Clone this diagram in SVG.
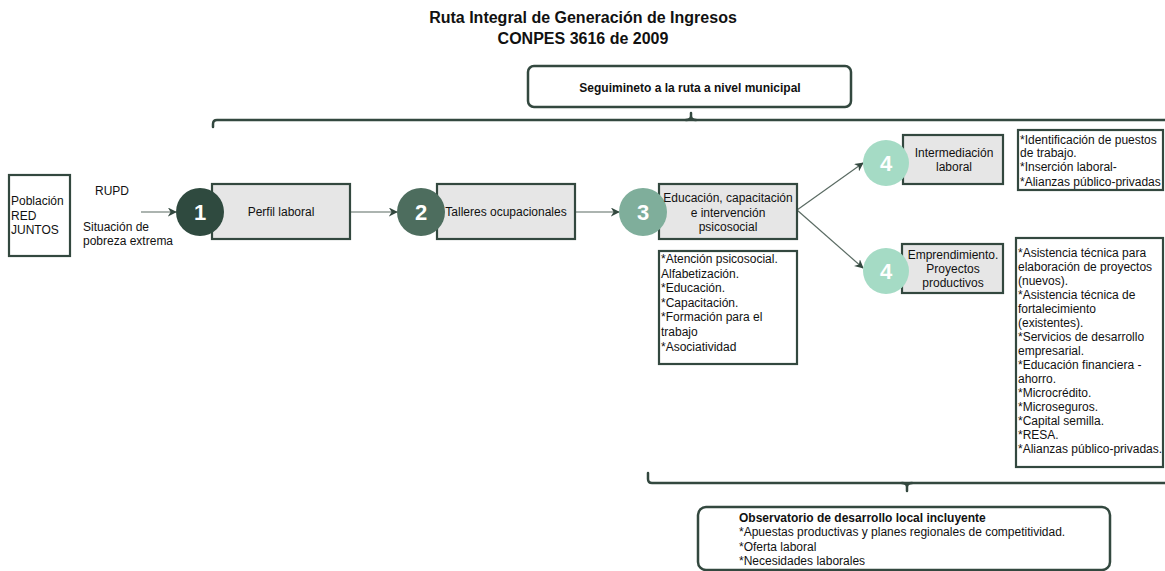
<svg xmlns="http://www.w3.org/2000/svg" width="1165" height="571" viewBox="0 0 1165 571">
<defs>
<style>
text{font-family:"Liberation Sans",Arial,sans-serif;font-size:12px;fill:#111}
.title{font-size:16px;font-weight:bold;text-anchor:middle}
.b{font-weight:bold}
.c{text-anchor:middle}
.num{font-size:22px;font-weight:bold;fill:#fff;text-anchor:middle}
.step{fill:#e6e6e6;stroke:#33483f;stroke-width:2.2}
.info{fill:#fff;stroke:#33483f;stroke-width:2.2}
.round{fill:#fff;stroke:#33483f;stroke-width:2.5}
.brace{fill:none;stroke:#33483f;stroke-width:2.5;stroke-linecap:round}
.conn{fill:none;stroke:#5a6b63;stroke-width:1.2}
</style>
<marker id="ah" viewBox="0 0 10 10" refX="9" refY="5" markerWidth="9" markerHeight="9" orient="auto" markerUnits="userSpaceOnUse">
<path d="M0,0 L10,5 L0,10 L3,5 z" fill="#33483f"/>
</marker>
</defs>
<rect width="1165" height="571" fill="#fff"/>

<g id="title">
<text class="title" x="583" y="23">Ruta Integral de Generación de Ingresos</text>
<text class="title" x="583" y="44">CONPES 3616 de 2009</text>
</g>

<g id="seguimiento">
<rect class="round" x="528" y="66" width="323" height="41" rx="6"/>
<text class="b c" x="690" y="92">Seguimineto a la ruta a nivel municipal</text>
</g>

<g id="braces">
<path class="brace" d="M213,127 L213,124 Q213,120 217,120 L1170,120"/>
<path class="brace" d="M686,120 Q691,120 691,116 L691,113 M696,120 Q691,120 691,116"/>
<path class="brace" d="M648,473 L648,479 Q648,483 652,483 L1170,483"/>
<path class="brace" d="M902,483 Q907,483 907,487 L907,491 M912,483 Q907,483 907,487"/>
</g>

<g id="poblacion">
<rect class="info" x="9" y="175" width="61" height="81"/>
<text x="11" y="205">Población</text>
<text x="11" y="220">RED</text>
<text x="11" y="234">JUNTOS</text>
</g>

<g id="labels-entrada">
<text x="95" y="195">RUPD</text>
<text x="83" y="231">Situación de</text>
<text x="83" y="245">pobreza extrema</text>
</g>

<g id="connectors">
<line class="conn" x1="141" y1="212" x2="176" y2="212" marker-end="url(#ah)"/>
<line class="conn" x1="351" y1="212" x2="397" y2="212" marker-end="url(#ah)"/>
<line class="conn" x1="575" y1="212" x2="619" y2="212" marker-end="url(#ah)"/>
<line class="conn" x1="797" y1="210" x2="863" y2="163" marker-end="url(#ah)"/>
<line class="conn" x1="797" y1="210" x2="863" y2="268" marker-end="url(#ah)"/>
</g>

<g id="paso1">
<rect class="step" x="212" y="184" width="138" height="55"/>
<circle cx="200" cy="212" r="24" fill="#2f4a3f"/>
<text class="num" x="200" y="220">1</text>
<text class="c" x="281" y="216">Perfil laboral</text>
</g>

<g id="paso2">
<rect class="step" x="437" y="184" width="138" height="55"/>
<circle cx="421" cy="212" r="24" fill="#4d6d5e"/>
<text class="num" x="421" y="220">2</text>
<text class="c" x="506" y="216">Talleres ocupacionales</text>
</g>

<g id="paso3">
<rect class="step" x="659" y="184" width="138" height="55"/>
<circle cx="643" cy="212" r="24" fill="#7fae9b"/>
<text class="num" x="643" y="220">3</text>
<text class="c" x="728" y="202">Educación, capacitación</text>
<text class="c" x="728" y="217">e intervención</text>
<text class="c" x="728" y="231">psicosocial</text>
</g>

<g id="lista3">
<rect class="info" x="659" y="251" width="138" height="113"/>
<text x="661" y="263">*Atención psicosocial.</text>
<text x="661" y="278">Alfabetización.</text>
<text x="661" y="292">*Educación.</text>
<text x="661" y="307">*Capacitación.</text>
<text x="661" y="321">*Formación para el</text>
<text x="661" y="336">trabajo</text>
<text x="661" y="351">*Asociatividad</text>
</g>

<g id="paso4a">
<rect class="step" x="903" y="135" width="100" height="49"/>
<circle cx="886" cy="163" r="23" fill="#a5dbc5"/>
<text class="num" x="886" y="171">4</text>
<text class="c" x="954" y="157">Intermediación</text>
<text class="c" x="954" y="171">laboral</text>
</g>

<g id="lista4a">
<rect class="info" x="1018" y="130" width="145" height="60"/>
<text x="1020" y="144">*Identificación de puestos</text>
<text x="1020" y="157">de trabajo.</text>
<text x="1020" y="171">*Inserción laboral-</text>
<text x="1020" y="186">*Alianzas público-privadas</text>
</g>

<g id="paso4b">
<rect class="step" x="902" y="244" width="101" height="49"/>
<circle cx="886" cy="271" r="23" fill="#a5dbc5"/>
<text class="num" x="886" y="279">4</text>
<text class="c" x="953" y="259">Emprendimiento.</text>
<text class="c" x="953" y="273">Proyectos</text>
<text class="c" x="953" y="287">productivos</text>
</g>

<g id="lista4b">
<rect class="info" x="1016" y="238" width="147" height="229"/>
<text x="1018" y="257">*Asistencia técnica para</text>
<text x="1018" y="271">elaboración de proyectos</text>
<text x="1018" y="285">(nuevos).</text>
<text x="1018" y="299">*Asistencia técnica de</text>
<text x="1018" y="313">fortalecimiento</text>
<text x="1018" y="327">(existentes).</text>
<text x="1018" y="341">*Servicios de desarrollo</text>
<text x="1018" y="355">empresarial.</text>
<text x="1018" y="369">*Educación financiera -</text>
<text x="1018" y="383">ahorro.</text>
<text x="1018" y="397">*Microcrédito.</text>
<text x="1018" y="411">*Microseguros.</text>
<text x="1018" y="425">*Capital semilla.</text>
<text x="1018" y="439">*RESA.</text>
<text x="1018" y="453">*Alianzas público-privadas.</text>
</g>

<g id="observatorio">
<rect class="round" x="698" y="507" width="412" height="63" rx="8"/>
<text class="b" x="739" y="522">Observatorio de desarrollo local incluyente</text>
<text x="739" y="536">*Apuestas productivas y planes regionales de competitividad.</text>
<text x="739" y="551">*Oferta laboral</text>
<text x="739" y="565">*Necesidades laborales</text>
</g>
</svg>
